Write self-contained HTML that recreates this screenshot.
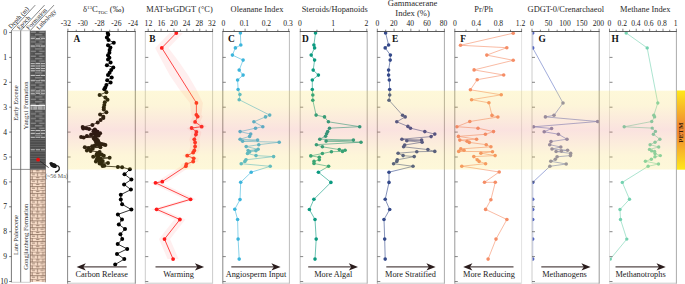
<!DOCTYPE html><html><head><meta charset="utf-8"><style>
html,body{margin:0;padding:0;background:#fff;}
body{width:685px;height:284px;overflow:hidden;}
svg{display:block;font-family:"Liberation Serif", serif;}
</style></head><body>
<svg width="685" height="284" viewBox="0 0 685 284">
<defs>
<linearGradient id="band" x1="0" y1="0" x2="0" y2="1"><stop offset="0" stop-color="#f8dc40"/><stop offset="0.18" stop-color="#f6d040"/><stop offset="0.5" stop-color="#e87060"/><stop offset="0.82" stop-color="#f6d040"/><stop offset="1" stop-color="#f8dc40"/></linearGradient>
<linearGradient id="petm" x1="0" y1="0" x2="0" y2="1"><stop offset="0" stop-color="#ffe81a"/><stop offset="0.45" stop-color="#f18a34"/><stop offset="0.55" stop-color="#f18a34"/><stop offset="1" stop-color="#ffe81a"/></linearGradient>
<pattern id="shale" x="30.1" y="31.0" width="15.4" height="4.8" patternUnits="userSpaceOnUse"><rect width="15.4" height="4.8" fill="#4f4f4f"/><g fill="#8f8f8f"><rect x="0.6" y="0.6" width="5.2" height="1.2"/><rect x="9.0" y="0.6" width="5.6" height="1.2"/><rect x="4.8" y="3.0" width="7.4" height="1.2"/></g><g fill="#5e5e5e"><rect x="0" y="3.0" width="3.2" height="1.2"/><rect x="13.6" y="3.0" width="1.8" height="1.2"/></g></pattern>
<pattern id="stripe" x="30.1" y="138.2" width="15.4" height="2.4" patternUnits="userSpaceOnUse"><rect width="15.4" height="2.4" fill="#4a4a4a"/><rect y="0.8" width="15.4" height="0.9" fill="#666"/></pattern>
<pattern id="brick" x="30.1" y="169.4" width="15.4" height="6.856" patternUnits="userSpaceOnUse"><rect width="15.4" height="6.856" fill="#fbe0cc"/><g stroke="#765b4a" stroke-width="0.7" fill="none"><path d="M0 0.1H15.4M0 3.528H15.4"/><path d="M2.1 0.1V3.528M12.7 0.1V3.528M7.4 3.528V6.856"/><path d="M6 1.5H9.2M1.8 5.1H4.9M10.2 5.1H13.7"/></g></pattern>
</defs>
<polygon points="169.6,33 155.1,47.9 162.3,61.5 169.9,75.4 179.3,89.2 189.9,102.9 191.4,114.8 192.7,116.6 190.1,121.9 196.7,126.7 186.6,128 191.4,131.9 190.9,134.6 189.3,139.3 190.1,142.5 190.1,146.5 189.3,150.4 188.2,152.5 182.2,155.7 188.7,158.3 188.2,161.5 181.4,164.1 180.8,166.2 156.8,181.7 150,182.8 185.1,199.3 151.1,209.3 174.4,219.5 159,239.1 167.6,259.1 178.6,259.1 170,239.1 185.4,219.5 162.1,209.3 196.1,199.3 161,182.8 167.8,181.7 190.8,166.2 191.4,164.1 198.2,161.5 198.7,158.3 192.2,155.7 198.2,152.5 199.3,150.4 200.1,146.5 200.1,142.5 199.3,139.3 200.9,134.6 201.4,131.9 196.6,128 206.7,126.7 200.1,121.9 202.7,116.6 201.4,114.8 202.9,102.9 196.3,89.2 188.3,75.4 178.7,61.5 168.5,47.9 183,33" fill="#ffefef"/>
<clipPath id="cpA"><rect x="67.9" y="20" width="67.1" height="270"/></clipPath>
<g clip-path="url(#cpA)">
<polyline points="107.7,33 108.3,34.8 106.9,37.6 108.5,40 113.8,42.7 108,45.3 110.4,47.4 109.6,50.1 109.4,52.7 108,55.3 109.4,57.7 108,59.4 110.6,62.4 106.9,65.2 113.3,67.5 111.2,70.1 109.6,72.8 108,74.9 111.7,77.5 107.2,80.2 110.6,82.5 106.4,84.9 105.3,87.6 104.3,89.3 106.4,92.2 99.6,94.9 105.4,97.5 107.5,99.8 104.8,102.3 104.3,104.9 103.8,107.5 103.8,109.6 106.4,112.3 100.1,114.4 103.3,116.7 103.3,118 100.6,119.9 97.7,122.4 92.4,124.9 82.7,127 86.4,128.3 83.2,128.6 89,129.1 94.8,129.6 95.5,130.6 93.5,131.2 97.5,131.7 97.2,132.3 100.1,133.3 94.3,133.3 91.1,134.4 96.2,134.6 98.6,135.6 86.9,136 95.3,136.5 81.1,137 83.7,137.5 95.4,137.6 93.8,138.6 96.8,139.2 95.3,140.2 97.8,140.6 98,141.2 96.2,142.2 99,142.8 98.6,143.2 97.5,143.5 101.7,143.9 103.8,144.6 97.2,144.8 105.4,144.9 94.8,145.6 99.8,145.6 92.2,146.3 84.8,147.2 100.4,147.2 88.5,148.3 92.7,148.8 86.9,150.4 90.6,150.9 99.6,152 97.2,153.2 99,153.6 101.7,154.6 96.5,154.8 98.4,155.4 103.8,155.7 93.2,156.7 98,157.8 109.6,157.8 100.6,158.8 96.8,159.4 99.2,160.2 102.7,161 95.9,161.5 100.6,162.6 108,163.1 99.6,163.6 101.7,164.1 104.3,165.7 102.6,166 117.9,166.9 122.1,167.3 129.9,169.3 124.5,174.3 131.4,179.5 124.1,184.4 130.9,189.6 120.8,194.7 120.8,199.5 122.1,204.3 131.4,209.6 117.9,214.4 122,219.5 118.8,224.4 125,229 120.4,234.2 122.2,239.1 117.7,244.1 127.2,248.9 117,253.9 124.3,259.1 115.2,264.5" fill="none" stroke="#000000" stroke-width="0.8" stroke-linejoin="round"/>
<g fill="#000000"><circle cx="107.7" cy="33" r="2.0"/><circle cx="108.3" cy="34.8" r="2.0"/><circle cx="106.9" cy="37.6" r="2.0"/><circle cx="108.5" cy="40" r="2.0"/><circle cx="113.8" cy="42.7" r="2.0"/><circle cx="108" cy="45.3" r="2.0"/><circle cx="110.4" cy="47.4" r="2.0"/><circle cx="109.6" cy="50.1" r="2.0"/><circle cx="109.4" cy="52.7" r="2.0"/><circle cx="108" cy="55.3" r="2.0"/><circle cx="109.4" cy="57.7" r="2.0"/><circle cx="108" cy="59.4" r="2.0"/><circle cx="110.6" cy="62.4" r="2.0"/><circle cx="106.9" cy="65.2" r="2.0"/><circle cx="113.3" cy="67.5" r="2.0"/><circle cx="111.2" cy="70.1" r="2.0"/><circle cx="109.6" cy="72.8" r="2.0"/><circle cx="108" cy="74.9" r="2.0"/><circle cx="111.7" cy="77.5" r="2.0"/><circle cx="107.2" cy="80.2" r="2.0"/><circle cx="110.6" cy="82.5" r="2.0"/><circle cx="106.4" cy="84.9" r="2.0"/><circle cx="105.3" cy="87.6" r="2.0"/><circle cx="104.3" cy="89.3" r="2.0"/><circle cx="106.4" cy="92.2" r="2.0"/><circle cx="99.6" cy="94.9" r="2.0"/><circle cx="105.4" cy="97.5" r="2.0"/><circle cx="107.5" cy="99.8" r="2.0"/><circle cx="104.8" cy="102.3" r="2.0"/><circle cx="104.3" cy="104.9" r="2.0"/><circle cx="103.8" cy="107.5" r="2.0"/><circle cx="103.8" cy="109.6" r="2.0"/><circle cx="106.4" cy="112.3" r="2.0"/><circle cx="100.1" cy="114.4" r="2.0"/><circle cx="103.3" cy="116.7" r="2.0"/><circle cx="103.3" cy="118" r="2.0"/><circle cx="100.6" cy="119.9" r="2.0"/><circle cx="97.7" cy="122.4" r="2.0"/><circle cx="92.4" cy="124.9" r="2.0"/><circle cx="82.7" cy="127" r="2.0"/><circle cx="86.4" cy="128.3" r="2.0"/><circle cx="83.2" cy="128.6" r="2.0"/><circle cx="89" cy="129.1" r="2.0"/><circle cx="94.8" cy="129.6" r="2.0"/><circle cx="95.5" cy="130.6" r="2.0"/><circle cx="93.5" cy="131.2" r="2.0"/><circle cx="97.5" cy="131.7" r="2.0"/><circle cx="97.2" cy="132.3" r="2.0"/><circle cx="100.1" cy="133.3" r="2.0"/><circle cx="94.3" cy="133.3" r="2.0"/><circle cx="91.1" cy="134.4" r="2.0"/><circle cx="96.2" cy="134.6" r="2.0"/><circle cx="98.6" cy="135.6" r="2.0"/><circle cx="86.9" cy="136" r="2.0"/><circle cx="95.3" cy="136.5" r="2.0"/><circle cx="81.1" cy="137" r="2.0"/><circle cx="83.7" cy="137.5" r="2.0"/><circle cx="95.4" cy="137.6" r="2.0"/><circle cx="93.8" cy="138.6" r="2.0"/><circle cx="96.8" cy="139.2" r="2.0"/><circle cx="95.3" cy="140.2" r="2.0"/><circle cx="97.8" cy="140.6" r="2.0"/><circle cx="98" cy="141.2" r="2.0"/><circle cx="96.2" cy="142.2" r="2.0"/><circle cx="99" cy="142.8" r="2.0"/><circle cx="98.6" cy="143.2" r="2.0"/><circle cx="97.5" cy="143.5" r="2.0"/><circle cx="101.7" cy="143.9" r="2.0"/><circle cx="103.8" cy="144.6" r="2.0"/><circle cx="97.2" cy="144.8" r="2.0"/><circle cx="105.4" cy="144.9" r="2.0"/><circle cx="94.8" cy="145.6" r="2.0"/><circle cx="99.8" cy="145.6" r="2.0"/><circle cx="92.2" cy="146.3" r="2.0"/><circle cx="84.8" cy="147.2" r="2.0"/><circle cx="100.4" cy="147.2" r="2.0"/><circle cx="88.5" cy="148.3" r="2.0"/><circle cx="92.7" cy="148.8" r="2.0"/><circle cx="86.9" cy="150.4" r="2.0"/><circle cx="90.6" cy="150.9" r="2.0"/><circle cx="99.6" cy="152" r="2.0"/><circle cx="97.2" cy="153.2" r="2.0"/><circle cx="99" cy="153.6" r="2.0"/><circle cx="101.7" cy="154.6" r="2.0"/><circle cx="96.5" cy="154.8" r="2.0"/><circle cx="98.4" cy="155.4" r="2.0"/><circle cx="103.8" cy="155.7" r="2.0"/><circle cx="93.2" cy="156.7" r="2.0"/><circle cx="98" cy="157.8" r="2.0"/><circle cx="109.6" cy="157.8" r="2.0"/><circle cx="100.6" cy="158.8" r="2.0"/><circle cx="96.8" cy="159.4" r="2.0"/><circle cx="99.2" cy="160.2" r="2.0"/><circle cx="102.7" cy="161" r="2.0"/><circle cx="95.9" cy="161.5" r="2.0"/><circle cx="100.6" cy="162.6" r="2.0"/><circle cx="108" cy="163.1" r="2.0"/><circle cx="99.6" cy="163.6" r="2.0"/><circle cx="101.7" cy="164.1" r="2.0"/><circle cx="104.3" cy="165.7" r="2.0"/><circle cx="102.6" cy="166" r="2.0"/><circle cx="117.9" cy="166.9" r="2.0"/><circle cx="122.1" cy="167.3" r="2.0"/><circle cx="129.9" cy="169.3" r="2.0"/><circle cx="124.5" cy="174.3" r="2.0"/><circle cx="131.4" cy="179.5" r="2.0"/><circle cx="124.1" cy="184.4" r="2.0"/><circle cx="130.9" cy="189.6" r="2.0"/><circle cx="120.8" cy="194.7" r="2.0"/><circle cx="120.8" cy="199.5" r="2.0"/><circle cx="122.1" cy="204.3" r="2.0"/><circle cx="131.4" cy="209.6" r="2.0"/><circle cx="117.9" cy="214.4" r="2.0"/><circle cx="122" cy="219.5" r="2.0"/><circle cx="118.8" cy="224.4" r="2.0"/><circle cx="125" cy="229" r="2.0"/><circle cx="120.4" cy="234.2" r="2.0"/><circle cx="122.2" cy="239.1" r="2.0"/><circle cx="117.7" cy="244.1" r="2.0"/><circle cx="127.2" cy="248.9" r="2.0"/><circle cx="117" cy="253.9" r="2.0"/><circle cx="124.3" cy="259.1" r="2.0"/><circle cx="115.2" cy="264.5" r="2.0"/></g>
</g>
<clipPath id="cpB"><rect x="145.6" y="20" width="66.7" height="270"/></clipPath>
<g clip-path="url(#cpB)">
<polyline points="176.3,33 161.8,47.9 196.4,102.9 196.4,114.8 197.7,116.6 195.1,121.9 201.7,126.7 191.6,128 196.4,131.9 195.9,134.6 194.3,139.3 195.1,142.5 195.1,146.5 194.3,150.4 193.2,152.5 187.2,155.7 193.7,158.3 193.2,161.5 186.4,164.1 185.8,166.2 162.3,181.7 155.5,182.8 190.6,199.3 156.6,209.3 179.9,219.5 164.5,239.1 173.1,259.1" fill="none" stroke="#ff1a1a" stroke-width="0.8" stroke-linejoin="round"/>
<g fill="#ff1a1a"><circle cx="176.3" cy="33" r="1.9"/><circle cx="161.8" cy="47.9" r="1.9"/><circle cx="196.4" cy="102.9" r="1.9"/><circle cx="196.4" cy="114.8" r="1.9"/><circle cx="197.7" cy="116.6" r="1.9"/><circle cx="195.1" cy="121.9" r="1.9"/><circle cx="201.7" cy="126.7" r="1.9"/><circle cx="191.6" cy="128" r="1.9"/><circle cx="196.4" cy="131.9" r="1.9"/><circle cx="195.9" cy="134.6" r="1.9"/><circle cx="194.3" cy="139.3" r="1.9"/><circle cx="195.1" cy="142.5" r="1.9"/><circle cx="195.1" cy="146.5" r="1.9"/><circle cx="194.3" cy="150.4" r="1.9"/><circle cx="193.2" cy="152.5" r="1.9"/><circle cx="187.2" cy="155.7" r="1.9"/><circle cx="193.7" cy="158.3" r="1.9"/><circle cx="193.2" cy="161.5" r="1.9"/><circle cx="186.4" cy="164.1" r="1.9"/><circle cx="185.8" cy="166.2" r="1.9"/><circle cx="162.3" cy="181.7" r="1.9"/><circle cx="155.5" cy="182.8" r="1.9"/><circle cx="190.6" cy="199.3" r="1.9"/><circle cx="156.6" cy="209.3" r="1.9"/><circle cx="179.9" cy="219.5" r="1.9"/><circle cx="164.5" cy="239.1" r="1.9"/><circle cx="173.1" cy="259.1" r="1.9"/></g>
</g>
<clipPath id="cpC"><rect x="223.1" y="20" width="66" height="270"/></clipPath>
<g clip-path="url(#cpC)">
<polyline points="240.4,33 240.8,45 235.4,47.9 232.4,55.1 243.1,60.1 239.2,70.1 243.1,75.1 237.6,80 238.1,89.5 239.9,94.5 239.2,99.7 269.7,115.1 265.5,116.9 253.9,121.8 262.8,126.7 255.5,128.2 240.1,131.6 250.7,134.1 249.6,136.4 240.1,139.2 257.6,140.1 242.6,141.3 279.2,142.2 258.8,144.7 246.2,146.6 258.1,149.3 248.1,150.6 256,150.8 249.6,151.9 247.5,153.5 256,155.6 273.6,156.6 246,159.8 244.9,161.4 241.2,163.7 270.2,166.3 251.2,172.2 240.7,182.3 240,199.6 234.8,209.2 237.6,219.5 238.1,239.1 239.2,259.1" fill="none" stroke="#3cb5dc" stroke-width="0.6" stroke-linejoin="round"/>
<g fill="#3cb5dc"><circle cx="240.4" cy="33" r="1.8"/><circle cx="240.8" cy="45" r="1.8"/><circle cx="235.4" cy="47.9" r="1.8"/><circle cx="232.4" cy="55.1" r="1.8"/><circle cx="243.1" cy="60.1" r="1.8"/><circle cx="239.2" cy="70.1" r="1.8"/><circle cx="243.1" cy="75.1" r="1.8"/><circle cx="237.6" cy="80" r="1.8"/><circle cx="238.1" cy="89.5" r="1.8"/><circle cx="239.9" cy="94.5" r="1.8"/><circle cx="239.2" cy="99.7" r="1.8"/><circle cx="269.7" cy="115.1" r="1.8"/><circle cx="265.5" cy="116.9" r="1.8"/><circle cx="253.9" cy="121.8" r="1.8"/><circle cx="262.8" cy="126.7" r="1.8"/><circle cx="255.5" cy="128.2" r="1.8"/><circle cx="240.1" cy="131.6" r="1.8"/><circle cx="250.7" cy="134.1" r="1.8"/><circle cx="249.6" cy="136.4" r="1.8"/><circle cx="240.1" cy="139.2" r="1.8"/><circle cx="257.6" cy="140.1" r="1.8"/><circle cx="242.6" cy="141.3" r="1.8"/><circle cx="279.2" cy="142.2" r="1.8"/><circle cx="258.8" cy="144.7" r="1.8"/><circle cx="246.2" cy="146.6" r="1.8"/><circle cx="258.1" cy="149.3" r="1.8"/><circle cx="248.1" cy="150.6" r="1.8"/><circle cx="256" cy="150.8" r="1.8"/><circle cx="249.6" cy="151.9" r="1.8"/><circle cx="247.5" cy="153.5" r="1.8"/><circle cx="256" cy="155.6" r="1.8"/><circle cx="273.6" cy="156.6" r="1.8"/><circle cx="246" cy="159.8" r="1.8"/><circle cx="244.9" cy="161.4" r="1.8"/><circle cx="241.2" cy="163.7" r="1.8"/><circle cx="270.2" cy="166.3" r="1.8"/><circle cx="251.2" cy="172.2" r="1.8"/><circle cx="240.7" cy="182.3" r="1.8"/><circle cx="240" cy="199.6" r="1.8"/><circle cx="234.8" cy="209.2" r="1.8"/><circle cx="237.6" cy="219.5" r="1.8"/><circle cx="238.1" cy="239.1" r="1.8"/><circle cx="239.2" cy="259.1" r="1.8"/></g>
</g>
<clipPath id="cpD"><rect x="300.5" y="20" width="66.4" height="270"/></clipPath>
<g clip-path="url(#cpD)">
<polyline points="315.5,33 313.9,45 314.6,47.9 311.2,55.1 314.6,60.1 313.2,70.1 318.4,75.1 312.3,80 312.3,89.5 312.8,95 312.8,100.2 316.1,115.1 324.5,116.9 328.4,121.8 359.7,126.7 329.5,128.2 327.7,131.6 326.6,133.8 325.6,136.2 319.8,139.2 353.4,140.1 326.1,141.1 361,142.2 316.4,144.7 322.4,146.8 339.3,149.6 345.1,150.3 342.5,151.4 331.4,151.7 322.4,153.5 310.8,155.9 319.3,157.2 319.3,159.8 314,161.4 314,163.5 328.6,166.3 318.4,172.2 330.9,182.4 313.9,199.3 309.4,209.5 315,219.5 316.2,239.1 315,259.1" fill="none" stroke="#0b9a80" stroke-width="0.6" stroke-linejoin="round"/>
<g fill="#0b9a80"><circle cx="315.5" cy="33" r="1.8"/><circle cx="313.9" cy="45" r="1.8"/><circle cx="314.6" cy="47.9" r="1.8"/><circle cx="311.2" cy="55.1" r="1.8"/><circle cx="314.6" cy="60.1" r="1.8"/><circle cx="313.2" cy="70.1" r="1.8"/><circle cx="318.4" cy="75.1" r="1.8"/><circle cx="312.3" cy="80" r="1.8"/><circle cx="312.3" cy="89.5" r="1.8"/><circle cx="312.8" cy="95" r="1.8"/><circle cx="312.8" cy="100.2" r="1.8"/><circle cx="316.1" cy="115.1" r="1.8"/><circle cx="324.5" cy="116.9" r="1.8"/><circle cx="328.4" cy="121.8" r="1.8"/><circle cx="359.7" cy="126.7" r="1.8"/><circle cx="329.5" cy="128.2" r="1.8"/><circle cx="327.7" cy="131.6" r="1.8"/><circle cx="326.6" cy="133.8" r="1.8"/><circle cx="325.6" cy="136.2" r="1.8"/><circle cx="319.8" cy="139.2" r="1.8"/><circle cx="353.4" cy="140.1" r="1.8"/><circle cx="326.1" cy="141.1" r="1.8"/><circle cx="361" cy="142.2" r="1.8"/><circle cx="316.4" cy="144.7" r="1.8"/><circle cx="322.4" cy="146.8" r="1.8"/><circle cx="339.3" cy="149.6" r="1.8"/><circle cx="345.1" cy="150.3" r="1.8"/><circle cx="342.5" cy="151.4" r="1.8"/><circle cx="331.4" cy="151.7" r="1.8"/><circle cx="322.4" cy="153.5" r="1.8"/><circle cx="310.8" cy="155.9" r="1.8"/><circle cx="319.3" cy="157.2" r="1.8"/><circle cx="319.3" cy="159.8" r="1.8"/><circle cx="314" cy="161.4" r="1.8"/><circle cx="314" cy="163.5" r="1.8"/><circle cx="328.6" cy="166.3" r="1.8"/><circle cx="318.4" cy="172.2" r="1.8"/><circle cx="330.9" cy="182.4" r="1.8"/><circle cx="313.9" cy="199.3" r="1.8"/><circle cx="309.4" cy="209.5" r="1.8"/><circle cx="315" cy="219.5" r="1.8"/><circle cx="316.2" cy="239.1" r="1.8"/><circle cx="315" cy="259.1" r="1.8"/></g>
</g>
<clipPath id="cpE"><rect x="377.6" y="20" width="66.5" height="270"/></clipPath>
<g clip-path="url(#cpE)">
<polyline points="385.6,33 388.6,45 385.2,47.9 390.4,55.1 390.2,60.1 388.6,70.1 388.6,75.1 389.3,80 389.7,89.5 389.7,95 389,100.2 402.6,115.3 405.2,116.9 396.8,121.8 407.9,126.4 410.5,128.2 424.8,131.6 434.8,134.1 431.1,136.6 401.9,139.2 421.6,140.1 406.8,140.8 422.1,142.2 404.7,145 403.6,146.8 427.9,149.6 434.8,151.4 416.8,151.7 398.1,153.2 403.1,155.6 414.2,156.6 397.3,159.8 396.8,161.4 393.6,163.7 413,166.3 389,172.2 389,182.4 385.2,199.3 389.7,209.5 384,219.5 384.7,239.1 385.2,259.1" fill="none" stroke="#34498a" stroke-width="0.6" stroke-linejoin="round"/>
<g fill="#34498a"><circle cx="385.6" cy="33" r="1.8"/><circle cx="388.6" cy="45" r="1.8"/><circle cx="385.2" cy="47.9" r="1.8"/><circle cx="390.4" cy="55.1" r="1.8"/><circle cx="390.2" cy="60.1" r="1.8"/><circle cx="388.6" cy="70.1" r="1.8"/><circle cx="388.6" cy="75.1" r="1.8"/><circle cx="389.3" cy="80" r="1.8"/><circle cx="389.7" cy="89.5" r="1.8"/><circle cx="389.7" cy="95" r="1.8"/><circle cx="389" cy="100.2" r="1.8"/><circle cx="402.6" cy="115.3" r="1.8"/><circle cx="405.2" cy="116.9" r="1.8"/><circle cx="396.8" cy="121.8" r="1.8"/><circle cx="407.9" cy="126.4" r="1.8"/><circle cx="410.5" cy="128.2" r="1.8"/><circle cx="424.8" cy="131.6" r="1.8"/><circle cx="434.8" cy="134.1" r="1.8"/><circle cx="431.1" cy="136.6" r="1.8"/><circle cx="401.9" cy="139.2" r="1.8"/><circle cx="421.6" cy="140.1" r="1.8"/><circle cx="406.8" cy="140.8" r="1.8"/><circle cx="422.1" cy="142.2" r="1.8"/><circle cx="404.7" cy="145" r="1.8"/><circle cx="403.6" cy="146.8" r="1.8"/><circle cx="427.9" cy="149.6" r="1.8"/><circle cx="434.8" cy="151.4" r="1.8"/><circle cx="416.8" cy="151.7" r="1.8"/><circle cx="398.1" cy="153.2" r="1.8"/><circle cx="403.1" cy="155.6" r="1.8"/><circle cx="414.2" cy="156.6" r="1.8"/><circle cx="397.3" cy="159.8" r="1.8"/><circle cx="396.8" cy="161.4" r="1.8"/><circle cx="393.6" cy="163.7" r="1.8"/><circle cx="413" cy="166.3" r="1.8"/><circle cx="389" cy="172.2" r="1.8"/><circle cx="389" cy="182.4" r="1.8"/><circle cx="385.2" cy="199.3" r="1.8"/><circle cx="389.7" cy="209.5" r="1.8"/><circle cx="384" cy="219.5" r="1.8"/><circle cx="384.7" cy="239.1" r="1.8"/><circle cx="385.2" cy="259.1" r="1.8"/></g>
</g>
<clipPath id="cpF"><rect x="455.1" y="20" width="66.2" height="270"/></clipPath>
<g clip-path="url(#cpF)">
<polyline points="513.2,33.2 460.5,45.3 506.8,47.7 486.8,55.1 513.2,60.3 474.1,69.9 503.7,75 477.2,79.7 470.4,89.8 501.2,94.8 471.6,99.7 488.9,102.8 492,115.4 497.9,117 469.8,121.5 456.9,126.7 478,128.2 493.5,131.6 485.4,134.3 458.4,136.4 476.6,139.2 459.8,140.1 467.1,141.3 469.3,142.4 486.2,144.7 490.9,146.8 460.8,148.9 464,150.3 458.7,151.4 492.5,151.7 480.9,153.2 495.1,155.6 473.8,156.6 477.2,159.8 479.1,161.4 485.6,163.7 461.8,166.2 499.2,172 484.5,182.3 495.3,182.3 490.9,199.7 485.6,209.4 506.9,219.5 496,239.1 488.1,259.1" fill="none" stroke="#f58d66" stroke-width="0.6" stroke-linejoin="round"/>
<g fill="#f58d66"><circle cx="513.2" cy="33.2" r="1.8"/><circle cx="460.5" cy="45.3" r="1.8"/><circle cx="506.8" cy="47.7" r="1.8"/><circle cx="486.8" cy="55.1" r="1.8"/><circle cx="513.2" cy="60.3" r="1.8"/><circle cx="474.1" cy="69.9" r="1.8"/><circle cx="503.7" cy="75" r="1.8"/><circle cx="477.2" cy="79.7" r="1.8"/><circle cx="470.4" cy="89.8" r="1.8"/><circle cx="501.2" cy="94.8" r="1.8"/><circle cx="471.6" cy="99.7" r="1.8"/><circle cx="488.9" cy="102.8" r="1.8"/><circle cx="492" cy="115.4" r="1.8"/><circle cx="497.9" cy="117" r="1.8"/><circle cx="469.8" cy="121.5" r="1.8"/><circle cx="456.9" cy="126.7" r="1.8"/><circle cx="478" cy="128.2" r="1.8"/><circle cx="493.5" cy="131.6" r="1.8"/><circle cx="485.4" cy="134.3" r="1.8"/><circle cx="458.4" cy="136.4" r="1.8"/><circle cx="476.6" cy="139.2" r="1.8"/><circle cx="459.8" cy="140.1" r="1.8"/><circle cx="467.1" cy="141.3" r="1.8"/><circle cx="469.3" cy="142.4" r="1.8"/><circle cx="486.2" cy="144.7" r="1.8"/><circle cx="490.9" cy="146.8" r="1.8"/><circle cx="460.8" cy="148.9" r="1.8"/><circle cx="464" cy="150.3" r="1.8"/><circle cx="458.7" cy="151.4" r="1.8"/><circle cx="492.5" cy="151.7" r="1.8"/><circle cx="480.9" cy="153.2" r="1.8"/><circle cx="495.1" cy="155.6" r="1.8"/><circle cx="473.8" cy="156.6" r="1.8"/><circle cx="477.2" cy="159.8" r="1.8"/><circle cx="479.1" cy="161.4" r="1.8"/><circle cx="485.6" cy="163.7" r="1.8"/><circle cx="461.8" cy="166.2" r="1.8"/><circle cx="499.2" cy="172" r="1.8"/><circle cx="484.5" cy="182.3" r="1.8"/><circle cx="495.3" cy="182.3" r="1.8"/><circle cx="490.9" cy="199.7" r="1.8"/><circle cx="485.6" cy="209.4" r="1.8"/><circle cx="506.9" cy="219.5" r="1.8"/><circle cx="496" cy="239.1" r="1.8"/><circle cx="488.1" cy="259.1" r="1.8"/></g>
</g>
<clipPath id="cpG"><rect x="532.3" y="20" width="66.6" height="270"/></clipPath>
<g clip-path="url(#cpG)">
<polyline points="532.7,33 532.7,47.9 563,103 554,115.3 545.4,116.9 597.6,121.5 533.5,126.8 551.6,128.5 544.2,131.8 558.4,134.2 567,139.2 551,141.6 549.7,144.7 560.8,147 552,149 567.6,150.3 561.4,151.1 556.1,151.5 570.7,153.4 570.4,155.6 557.1,156.8 555.3,159.3 550.8,161.3 566.2,164 549.9,166.3 532.7,182.4 532.7,199.3 532.7,209.5 532.7,219.5 532.7,239.1 532.7,259.1" fill="none" stroke="#6274c2" stroke-width="0.6" stroke-linejoin="round"/>
<g fill="#8486ae"><circle cx="563" cy="103" r="1.8"/><circle cx="554" cy="115.3" r="1.8"/><circle cx="545.4" cy="116.9" r="1.8"/><circle cx="597.6" cy="121.5" r="1.8"/><circle cx="533.5" cy="126.8" r="1.8"/><circle cx="551.6" cy="128.5" r="1.8"/><circle cx="544.2" cy="131.8" r="1.8"/><circle cx="558.4" cy="134.2" r="1.8"/><circle cx="567" cy="139.2" r="1.8"/><circle cx="551" cy="141.6" r="1.8"/><circle cx="549.7" cy="144.7" r="1.8"/><circle cx="560.8" cy="147" r="1.8"/><circle cx="552" cy="149" r="1.8"/><circle cx="567.6" cy="150.3" r="1.8"/><circle cx="561.4" cy="151.1" r="1.8"/><circle cx="556.1" cy="151.5" r="1.8"/><circle cx="570.7" cy="153.4" r="1.8"/><circle cx="570.4" cy="155.6" r="1.8"/><circle cx="557.1" cy="156.8" r="1.8"/><circle cx="555.3" cy="159.3" r="1.8"/><circle cx="550.8" cy="161.3" r="1.8"/><circle cx="566.2" cy="164" r="1.8"/><circle cx="549.9" cy="166.3" r="1.8"/></g>
<g fill="#5466c0"><circle cx="532.7" cy="33" r="1.8"/><circle cx="532.7" cy="47.9" r="1.8"/><circle cx="532.7" cy="182.4" r="1.8"/><circle cx="532.7" cy="199.3" r="1.8"/><circle cx="532.7" cy="209.5" r="1.8"/><circle cx="532.7" cy="219.5" r="1.8"/><circle cx="532.7" cy="239.1" r="1.8"/><circle cx="532.7" cy="259.1" r="1.8"/></g>
</g>
<clipPath id="cpH"><rect x="609.8" y="20" width="66.3" height="270"/></clipPath>
<g clip-path="url(#cpH)">
<polyline points="626.2,33 647.2,47.9 657.8,103 653.8,115.3 654.6,116.9 651.7,121.5 624.2,126.8 652.2,128.1 655.4,131.4 653.4,134.2 659.9,139.2 655,142.3 650.1,144.7 658.7,147 649.5,149.4 651.7,150.9 654.6,151.5 655,153.6 660.3,155.6 655,156.8 651.3,159.3 645.4,161.3 658.5,164 648.1,166.3 622.3,182.4 629.5,199.3 620,209.5 620.5,219.5 626.8,239.1 610.3,259.1" fill="none" stroke="#74d2b0" stroke-width="0.6" stroke-linejoin="round"/>
<g fill="#74d2b0"><circle cx="626.2" cy="33" r="1.7"/><circle cx="647.2" cy="47.9" r="1.7"/><circle cx="657.8" cy="103" r="1.7"/><circle cx="653.8" cy="115.3" r="1.7"/><circle cx="654.6" cy="116.9" r="1.7"/><circle cx="651.7" cy="121.5" r="1.7"/><circle cx="624.2" cy="126.8" r="1.7"/><circle cx="652.2" cy="128.1" r="1.7"/><circle cx="655.4" cy="131.4" r="1.7"/><circle cx="653.4" cy="134.2" r="1.7"/><circle cx="659.9" cy="139.2" r="1.7"/><circle cx="655" cy="142.3" r="1.7"/><circle cx="650.1" cy="144.7" r="1.7"/><circle cx="658.7" cy="147" r="1.7"/><circle cx="649.5" cy="149.4" r="1.7"/><circle cx="651.7" cy="150.9" r="1.7"/><circle cx="654.6" cy="151.5" r="1.7"/><circle cx="655" cy="153.6" r="1.7"/><circle cx="660.3" cy="155.6" r="1.7"/><circle cx="655" cy="156.8" r="1.7"/><circle cx="651.3" cy="159.3" r="1.7"/><circle cx="645.4" cy="161.3" r="1.7"/><circle cx="658.5" cy="164" r="1.7"/><circle cx="648.1" cy="166.3" r="1.7"/><circle cx="622.3" cy="182.4" r="1.7"/><circle cx="629.5" cy="199.3" r="1.7"/><circle cx="620" cy="209.5" r="1.7"/><circle cx="620.5" cy="219.5" r="1.7"/><circle cx="626.8" cy="239.1" r="1.7"/><circle cx="610.3" cy="259.1" r="1.7"/></g>
</g>
<path d="M67.6 283.2 H135.3" stroke="#c4c4c4" stroke-width="0.9"/>
<path d="M67.6 31.5 V283.7" stroke="#888" stroke-width="1"/>
<path d="M135.3 31.5 V283.7" stroke="#888" stroke-width="1"/>
<path d="M67.2 31.5 H135.7" stroke="#4a4a4a" stroke-width="0.9"/>
<path d="M67.6 57.4h3M67.6 82.3h3M67.6 107.2h3M67.6 132.1h3M67.6 157h3M67.6 181.9h3M67.6 206.8h3M67.6 231.7h3M67.6 256.6h3M67.6 281.5h3" stroke="#555" stroke-width="0.7"/>
<path d="M67.9 31.5V28.7M76.26 31.5V29.7M84.62 31.5V28.7M92.99 31.5V29.7M101.35 31.5V28.7M109.71 31.5V29.7M118.08 31.5V28.7M126.44 31.5V29.7M134.8 31.5V28.7" stroke="#4a4a4a" stroke-width="0.7"/>
<text x="65.9" y="25.8" font-size="7.6" text-anchor="middle" fill="#222">-32</text>
<text x="82.8" y="25.8" font-size="7.6" text-anchor="middle" fill="#222">-30</text>
<text x="99.6" y="25.8" font-size="7.6" text-anchor="middle" fill="#222">-28</text>
<text x="116.4" y="25.8" font-size="7.6" text-anchor="middle" fill="#222">-26</text>
<text x="133.1" y="25.8" font-size="7.6" text-anchor="middle" fill="#222">-24</text>
<text x="73.6" y="42" font-size="9.4" font-weight="bold" fill="#111">A</text>
<path d="M81.6 266.9H126.7" stroke="#554848" stroke-width="1.3"/>
<path d="M76.6 266.9 L85.8 263.3 L83.4 266.9 L85.8 270.5 Z" fill="#2a1c1c"/>
<text x="101.7" y="277.2" font-size="8.3" text-anchor="middle" fill="#222">Carbon Release</text>
<path d="M145.3 283.2 H212.6" stroke="#c4c4c4" stroke-width="0.9"/>
<path d="M145.3 31.5 V283.7" stroke="#ccc" stroke-width="1"/>
<path d="M212.6 31.5 V283.7" stroke="#ccc" stroke-width="1"/>
<path d="M144.9 31.5 H213" stroke="#4a4a4a" stroke-width="0.9"/>
<path d="M145.3 57.4h3M145.3 82.3h3M145.3 107.2h3M145.3 132.1h3M145.3 157h3M145.3 181.9h3M145.3 206.8h3M145.3 231.7h3M145.3 256.6h3M145.3 281.5h3" stroke="#555" stroke-width="0.7"/>
<path d="M148.2 31.5V28.7M154.64 31.5V29.7M161.08 31.5V28.7M167.52 31.5V29.7M173.96 31.5V28.7M180.4 31.5V29.7M186.84 31.5V28.7M193.28 31.5V29.7M199.72 31.5V28.7M206.16 31.5V29.7M212.6 31.5V28.7" stroke="#4a4a4a" stroke-width="0.7"/>
<text x="148.4" y="25.8" font-size="7.6" text-anchor="middle" fill="#222">12</text>
<text x="161.3" y="25.8" font-size="7.6" text-anchor="middle" fill="#222">16</text>
<text x="173.9" y="25.8" font-size="7.6" text-anchor="middle" fill="#222">20</text>
<text x="186.6" y="25.8" font-size="7.6" text-anchor="middle" fill="#222">24</text>
<text x="199.3" y="25.8" font-size="7.6" text-anchor="middle" fill="#222">28</text>
<text x="211.9" y="25.8" font-size="7.6" text-anchor="middle" fill="#222">32</text>
<text x="149.2" y="42" font-size="9.4" font-weight="bold" fill="#111">B</text>
<text x="179.5" y="11.8" font-size="8.4" text-anchor="middle" fill="#2a2a2a">MAT-brGDGT (°C)</text>
<path d="M155.5 266.9H199.1" stroke="#554848" stroke-width="1.3"/>
<path d="M204.1 266.9 L194.9 263.3 L197.3 266.9 L194.9 270.5 Z" fill="#2a1c1c"/>
<text x="178.5" y="277.2" font-size="8.3" text-anchor="middle" fill="#222">Warming</text>
<path d="M222.8 283.2 H289.4" stroke="#c4c4c4" stroke-width="0.9"/>
<path d="M222.8 31.5 V283.7" stroke="#888" stroke-width="1"/>
<path d="M289.4 31.5 V283.7" stroke="#bbb" stroke-width="1"/>
<path d="M222.4 31.5 H289.8" stroke="#4a4a4a" stroke-width="0.9"/>
<path d="M222.8 57.4h3M222.8 82.3h3M222.8 107.2h3M222.8 132.1h3M222.8 157h3M222.8 181.9h3M222.8 206.8h3M222.8 231.7h3M222.8 256.6h3M222.8 281.5h3" stroke="#555" stroke-width="0.7"/>
<path d="M223.3 31.5V28.7M234.2 31.5V29.7M245.1 31.5V28.7M256 31.5V29.7M266.9 31.5V28.7M277.8 31.5V29.7M288.7 31.5V28.7" stroke="#4a4a4a" stroke-width="0.7"/>
<text x="223.4" y="25.8" font-size="7.6" text-anchor="middle" fill="#222">0</text>
<text x="244.4" y="25.8" font-size="7.6" text-anchor="middle" fill="#222">0.1</text>
<text x="266.4" y="25.8" font-size="7.6" text-anchor="middle" fill="#222">0.2</text>
<text x="288" y="25.8" font-size="7.6" text-anchor="middle" fill="#222">0.3</text>
<text x="228" y="42" font-size="9.4" font-weight="bold" fill="#111">C</text>
<text x="257" y="11.8" font-size="8.4" text-anchor="middle" fill="#2a2a2a">Oleanane Index</text>
<path d="M231.3 266.9H275.6" stroke="#554848" stroke-width="1.3"/>
<path d="M280.6 266.9 L271.4 263.3 L273.8 266.9 L271.4 270.5 Z" fill="#2a1c1c"/>
<text x="256" y="277.2" font-size="8.3" text-anchor="middle" fill="#222">Angiosperm Input</text>
<path d="M300.2 283.2 H367.2" stroke="#c4c4c4" stroke-width="0.9"/>
<path d="M300.2 31.5 V283.7" stroke="#c2c2c2" stroke-width="1"/>
<path d="M367.2 31.5 V283.7" stroke="#aaa" stroke-width="1"/>
<path d="M299.8 31.5 H367.6" stroke="#4a4a4a" stroke-width="0.9"/>
<path d="M300.2 57.4h3M300.2 82.3h3M300.2 107.2h3M300.2 132.1h3M300.2 157h3M300.2 181.9h3M300.2 206.8h3M300.2 231.7h3M300.2 256.6h3M300.2 281.5h3" stroke="#555" stroke-width="0.7"/>
<path d="M300.3 31.5V28.7M316.93 31.5V29.7M333.55 31.5V28.7M350.18 31.5V29.7M366.8 31.5V28.7" stroke="#4a4a4a" stroke-width="0.7"/>
<text x="299.8" y="25.8" font-size="7.6" text-anchor="middle" fill="#222">0</text>
<text x="333.1" y="25.8" font-size="7.6" text-anchor="middle" fill="#222">1</text>
<text x="366.4" y="25.8" font-size="7.6" text-anchor="middle" fill="#222">2</text>
<text x="302" y="42" font-size="9.4" font-weight="bold" fill="#111">D</text>
<text x="334.7" y="11.8" font-size="8.4" text-anchor="middle" fill="#2a2a2a">Steroids/Hopanoids</text>
<path d="M308.2 266.9H353" stroke="#554848" stroke-width="1.3"/>
<path d="M358 266.9 L348.8 263.3 L351.2 266.9 L348.8 270.5 Z" fill="#2a1c1c"/>
<text x="333.2" y="277.2" font-size="8.3" text-anchor="middle" fill="#222">More Algal</text>
<path d="M377.3 283.2 H444.4" stroke="#c4c4c4" stroke-width="0.9"/>
<path d="M377.3 31.5 V283.7" stroke="#aaa" stroke-width="1"/>
<path d="M444.4 31.5 V283.7" stroke="#aaa" stroke-width="1"/>
<path d="M376.9 31.5 H444.8" stroke="#4a4a4a" stroke-width="0.9"/>
<path d="M377.3 57.4h3M377.3 82.3h3M377.3 107.2h3M377.3 132.1h3M377.3 157h3M377.3 181.9h3M377.3 206.8h3M377.3 231.7h3M377.3 256.6h3M377.3 281.5h3" stroke="#555" stroke-width="0.7"/>
<path d="M377.3 31.5V28.7M385.69 31.5V29.7M394.07 31.5V28.7M402.46 31.5V29.7M410.85 31.5V28.7M419.24 31.5V29.7M427.62 31.5V28.7M436.01 31.5V29.7M444.4 31.5V28.7" stroke="#4a4a4a" stroke-width="0.7"/>
<text x="377.3" y="25.8" font-size="7.6" text-anchor="middle" fill="#222">0</text>
<text x="393.7" y="25.8" font-size="7.6" text-anchor="middle" fill="#222">20</text>
<text x="410.2" y="25.8" font-size="7.6" text-anchor="middle" fill="#222">40</text>
<text x="427" y="25.8" font-size="7.6" text-anchor="middle" fill="#222">60</text>
<text x="443.6" y="25.8" font-size="7.6" text-anchor="middle" fill="#222">80</text>
<text x="392" y="42" font-size="9.4" font-weight="bold" fill="#111">E</text>
<path d="M386.3 266.9H430.6" stroke="#554848" stroke-width="1.3"/>
<path d="M435.6 266.9 L426.4 263.3 L428.8 266.9 L426.4 270.5 Z" fill="#2a1c1c"/>
<text x="410.5" y="277.2" font-size="8.3" text-anchor="middle" fill="#222">More Stratified</text>
<path d="M454.8 283.2 H521.6" stroke="#c4c4c4" stroke-width="0.9"/>
<path d="M454.8 31.5 V283.7" stroke="#999" stroke-width="1"/>
<path d="M521.6 31.5 V283.7" stroke="#e2e2e2" stroke-width="1"/>
<path d="M454.4 31.5 H522" stroke="#4a4a4a" stroke-width="0.9"/>
<path d="M454.8 57.4h3M454.8 82.3h3M454.8 107.2h3M454.8 132.1h3M454.8 157h3M454.8 181.9h3M454.8 206.8h3M454.8 231.7h3M454.8 256.6h3M454.8 281.5h3" stroke="#555" stroke-width="0.7"/>
<path d="M454.8 31.5V28.7M465.93 31.5V29.7M477.07 31.5V28.7M488.2 31.5V29.7M499.33 31.5V28.7M510.47 31.5V29.7M521.6 31.5V28.7" stroke="#4a4a4a" stroke-width="0.7"/>
<text x="454.8" y="25.8" font-size="7.6" text-anchor="middle" fill="#222">0</text>
<text x="476.2" y="25.8" font-size="7.6" text-anchor="middle" fill="#222">0.4</text>
<text x="498.4" y="25.8" font-size="7.6" text-anchor="middle" fill="#222">0.8</text>
<text x="520.5" y="25.8" font-size="7.6" text-anchor="middle" fill="#222">1.2</text>
<text x="460.2" y="41.8" font-size="9.4" font-weight="bold" fill="#111">F</text>
<text x="483.6" y="11.8" font-size="8.4" text-anchor="middle" fill="#2a2a2a">Pr/Ph</text>
<path d="M468.2 266.9H513.5" stroke="#554848" stroke-width="1.3"/>
<path d="M463.2 266.9 L472.4 263.3 L470 266.9 L472.4 270.5 Z" fill="#2a1c1c"/>
<text x="489" y="277.2" font-size="8.3" text-anchor="middle" fill="#222">More Reducing</text>
<path d="M532 283.2 H599.2" stroke="#c4c4c4" stroke-width="0.9"/>
<path d="M532 31.5 V283.7" stroke="#ccc" stroke-width="1"/>
<path d="M599.2 31.5 V283.7" stroke="#999" stroke-width="1"/>
<path d="M531.6 31.5 H599.6" stroke="#4a4a4a" stroke-width="0.9"/>
<path d="M532 57.4h3M532 82.3h3M532 107.2h3M532 132.1h3M532 157h3M532 181.9h3M532 206.8h3M532 231.7h3M532 256.6h3M532 281.5h3" stroke="#555" stroke-width="0.7"/>
<path d="M532 31.5V28.7M540.39 31.5V29.7M548.77 31.5V28.7M557.16 31.5V29.7M565.55 31.5V28.7M573.94 31.5V29.7M582.33 31.5V28.7M590.71 31.5V29.7M599.1 31.5V28.7" stroke="#4a4a4a" stroke-width="0.7"/>
<text x="532" y="25.8" font-size="7.6" text-anchor="middle" fill="#222">0</text>
<text x="548.5" y="25.8" font-size="7.6" text-anchor="middle" fill="#222">50</text>
<text x="565" y="25.8" font-size="7.6" text-anchor="middle" fill="#222">100</text>
<text x="581.8" y="25.8" font-size="7.6" text-anchor="middle" fill="#222">150</text>
<text x="598.4" y="25.8" font-size="7.6" text-anchor="middle" fill="#222">200</text>
<text x="538.6" y="42" font-size="9.4" font-weight="bold" fill="#111">G</text>
<text x="565.8" y="11.8" font-size="8.4" text-anchor="middle" fill="#2a2a2a">GDGT-0/Crenarchaeol</text>
<path d="M541.3 266.9H585.6" stroke="#554848" stroke-width="1.3"/>
<path d="M590.6 266.9 L581.4 263.3 L583.8 266.9 L581.4 270.5 Z" fill="#2a1c1c"/>
<text x="564.5" y="277.2" font-size="8.3" text-anchor="middle" fill="#222">Methanogens</text>
<path d="M609.5 283.2 H676.4" stroke="#c4c4c4" stroke-width="0.9"/>
<path d="M609.5 31.5 V283.7" stroke="#e2e2e2" stroke-width="1"/>
<path d="M676.4 31.5 V283.7" stroke="#aaa" stroke-width="1"/>
<path d="M609.1 31.5 H676.8" stroke="#4a4a4a" stroke-width="0.9"/>
<path d="M609.5 57.4h3M609.5 82.3h3M609.5 107.2h3M609.5 132.1h3M609.5 157h3M609.5 181.9h3M609.5 206.8h3M609.5 231.7h3M609.5 256.6h3M609.5 281.5h3" stroke="#555" stroke-width="0.7"/>
<path d="M609.5 31.5V28.7M616.19 31.5V29.7M622.88 31.5V28.7M629.57 31.5V29.7M636.26 31.5V28.7M642.95 31.5V29.7M649.64 31.5V28.7M656.33 31.5V29.7M663.02 31.5V28.7M669.71 31.5V29.7M676.4 31.5V28.7" stroke="#4a4a4a" stroke-width="0.7"/>
<text x="609.5" y="25.8" font-size="7.6" text-anchor="middle" fill="#222">0</text>
<text x="622.3" y="25.8" font-size="7.6" text-anchor="middle" fill="#222">0.2</text>
<text x="635.9" y="25.8" font-size="7.6" text-anchor="middle" fill="#222">0.4</text>
<text x="648.8" y="25.8" font-size="7.6" text-anchor="middle" fill="#222">0.6</text>
<text x="662.1" y="25.8" font-size="7.6" text-anchor="middle" fill="#222">0.8</text>
<text x="675.6" y="25.8" font-size="7.6" text-anchor="middle" fill="#222">1</text>
<text x="611.4" y="42" font-size="9.4" font-weight="bold" fill="#111">H</text>
<text x="645.3" y="11.8" font-size="8.4" text-anchor="middle" fill="#2a2a2a">Methane Index</text>
<path d="M615.5 266.9H660.7" stroke="#554848" stroke-width="1.3"/>
<path d="M665.7 266.9 L656.5 263.3 L658.9 266.9 L656.5 270.5 Z" fill="#2a1c1c"/>
<text x="640.5" y="277.2" font-size="8.3" text-anchor="middle" fill="#222">Methanotrophs</text>
<rect x="67.8" y="90.7" width="608.6" height="78.8" fill="url(#band)" opacity="0.2"/>
<text x="83" y="12" font-size="8.6" fill="#2a2a2a">δ<tspan font-size="5" dy="-3.2">13</tspan><tspan dy="3.2">C</tspan><tspan font-size="5" dy="1.8">TOC</tspan><tspan dy="-1.8"> (‰)</tspan></text>
<text x="412.6" y="6.2" font-size="8.6" text-anchor="middle" fill="#2a2a2a">Gammacerane</text>
<text x="412.6" y="16.4" font-size="8.6" text-anchor="middle" fill="#2a2a2a">Index (%)</text>
<rect x="676.9" y="90.5" width="8.1" height="79.2" fill="url(#petm)"/>
<text transform="translate(683.4 132.6) rotate(-90)" font-size="7" font-weight="bold" text-anchor="middle" fill="#3a2208">PETM</text>
<rect x="30.1" y="30.7" width="15.4" height="138.7" fill="url(#shale)"/>
<rect x="30.1" y="138.2" width="15.4" height="31.2" fill="url(#stripe)"/>
<path d="M30.6 38.6H45" stroke="#c9c9c9" stroke-width="0.9" stroke-dasharray="4.2 1"/>
<path d="M30.6 46H45" stroke="#c9c9c9" stroke-width="0.9" stroke-dasharray="4.2 1"/>
<path d="M30.6 63.6H45" stroke="#c9c9c9" stroke-width="0.9" stroke-dasharray="4.2 1"/>
<path d="M30.6 66H45" stroke="#c9c9c9" stroke-width="0.9" stroke-dasharray="4.2 1"/>
<path d="M30.6 68.5H45" stroke="#c9c9c9" stroke-width="0.9" stroke-dasharray="4.2 1"/>
<path d="M30.6 70.8H45" stroke="#c9c9c9" stroke-width="0.9" stroke-dasharray="4.2 1"/>
<path d="M30.6 75.5H45" stroke="#c9c9c9" stroke-width="0.9" stroke-dasharray="4.2 1"/>
<path d="M30.6 80.8H45" stroke="#c9c9c9" stroke-width="0.9" stroke-dasharray="4.2 1"/>
<path d="M30.6 90.9H45" stroke="#c9c9c9" stroke-width="0.9" stroke-dasharray="4.2 1"/>
<path d="M30.6 93.3H45" stroke="#c9c9c9" stroke-width="0.9" stroke-dasharray="4.2 1"/>
<path d="M30.6 130.5H45" stroke="#c9c9c9" stroke-width="0.9" stroke-dasharray="4.2 1"/>
<path d="M30.6 133.6H45" stroke="#c9c9c9" stroke-width="0.9" stroke-dasharray="4.2 1"/>
<path d="M30.6 137.3H45" stroke="#c9c9c9" stroke-width="0.9" stroke-dasharray="4.2 1"/>
<path d="M30.6 149.8H45" stroke="#c9c9c9" stroke-width="0.9" stroke-dasharray="4.2 1"/>
<rect x="30.1" y="104.9" width="15.4" height="1.4" fill="#f2f2f2"/>
<rect x="30.1" y="106.4" width="15.4" height="3.3" fill="#a9a9a9"/>
<path d="M32.8 106.4v3.3M37.5 106.4v3.3M43 106.4v3.3" stroke="#555" stroke-width="0.6"/>
<rect x="30.1" y="169.4" width="15.4" height="112.6" fill="url(#brick)"/>
<path d="M30.1 30.7V169.4M45.5 30.7V169.4" stroke="#555" stroke-width="0.5"/>
<path d="M30.3 169.4V282.3M45.3 169.4V282.3" stroke="#6a5040" stroke-width="0.7"/>
<path d="M11.4 30.7V282.3M20.7 30.7V282.3" stroke="#555" stroke-width="0.8"/>
<path d="M11.4 30.7H30.1M11.4 282.3H30.1" stroke="#bbb" stroke-width="0.7"/>
<path d="M11.4 169.4H45.5" stroke="#666" stroke-width="0.7"/>
<path d="M9.2 32.5H11.4M9.2 57.4H11.4M9.2 82.3H11.4M9.2 107.2H11.4M9.2 132.1H11.4M9.2 157H11.4M9.2 181.9H11.4M9.2 206.8H11.4M9.2 231.7H11.4M9.2 256.6H11.4M9.2 281.5H11.4" stroke="#444" stroke-width="0.7"/>
<text x="5.2" y="35.1" font-size="7.6" text-anchor="middle" fill="#222">0</text>
<text x="5.2" y="60" font-size="7.6" text-anchor="middle" fill="#222">1</text>
<text x="5.2" y="84.9" font-size="7.6" text-anchor="middle" fill="#222">2</text>
<text x="5.2" y="109.8" font-size="7.6" text-anchor="middle" fill="#222">3</text>
<text x="5.2" y="134.7" font-size="7.6" text-anchor="middle" fill="#222">4</text>
<text x="5.2" y="159.6" font-size="7.6" text-anchor="middle" fill="#222">5</text>
<text x="5.2" y="184.5" font-size="7.6" text-anchor="middle" fill="#222">6</text>
<text x="5.2" y="209.4" font-size="7.6" text-anchor="middle" fill="#222">7</text>
<text x="5.2" y="234.3" font-size="7.6" text-anchor="middle" fill="#222">8</text>
<text x="5.2" y="259.2" font-size="7.6" text-anchor="middle" fill="#222">9</text>
<text x="4" y="284.1" font-size="7.6" text-anchor="middle" fill="#222">10</text>
<text transform="translate(18.3 103) rotate(-90)" font-size="6.6" text-anchor="middle" fill="#2a2a2a">Early Eocene</text>
<text transform="translate(27.7 105.5) rotate(-90)" font-size="6.6" text-anchor="middle" fill="#2a2a2a">Yangxi Formation</text>
<text transform="translate(18.3 235) rotate(-90)" font-size="6.6" text-anchor="middle" fill="#2a2a2a">Late Paleocene</text>
<text transform="translate(27.7 236.7) rotate(-90)" font-size="6.6" text-anchor="middle" fill="#2a2a2a">Gongjiazheng Formation</text>
<g transform="translate(11.4 30.7) rotate(-47)">
<path d="M0 0H35" stroke="#444" stroke-width="0.6"/>
<text x="1" y="-1.5" font-size="6.5" fill="#2a2a2a">Depth (m)</text></g>
<g transform="translate(20.7 30.7) rotate(-47)">
<path d="M0 0H35" stroke="#444" stroke-width="0.6"/>
<text x="-0.6" y="-1.2" font-size="6.5" fill="#2a2a2a">Epoch</text></g>
<g transform="translate(30.1 30.7) rotate(-47)">
<path d="M0 0H35" stroke="#444" stroke-width="0.6"/>
<text x="-0.6" y="-1.2" font-size="6.5" fill="#2a2a2a">Formation</text></g>
<g transform="translate(40.2 30.7) rotate(-47)">
<text x="-0.6" y="-1.2" font-size="6.5" fill="#2a2a2a">Lithology</text></g>
<circle cx="38.1" cy="159.7" r="1.9" fill="#ee0a0a"/>
<path d="M40.2 161.2L48.6 167.6" stroke="#222" stroke-width="0.8"/>
<g fill="#1a1a1a"><ellipse cx="53.6" cy="165.4" rx="3.5" ry="2.3" transform="rotate(25 53.6 165.4)"/><circle cx="51.3" cy="163.8" r="1.7"/><circle cx="50.2" cy="163.2" r="0.8"/></g><path d="M56.3 165.6C59.6 165.2 60.4 169.4 57.8 171.1C56.9 171.7 55.9 172 55 172.1" fill="none" stroke="#1a1a1a" stroke-width="1.3"/>
<text x="56.5" y="178.4" font-size="6" text-anchor="middle" fill="#555">(~56 Ma)</text>
</svg></body></html>
